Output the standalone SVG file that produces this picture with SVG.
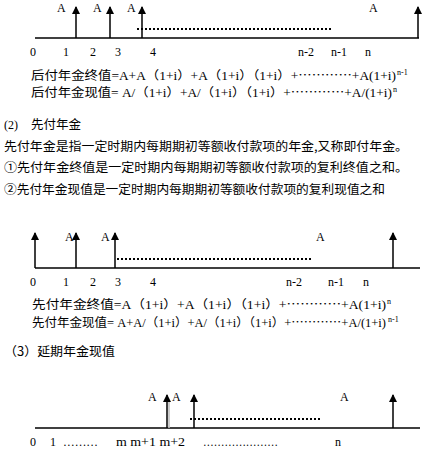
<svg xmlns="http://www.w3.org/2000/svg" width="426" height="452" viewBox="0 0 426 452">
<style>
.ax{stroke:#000;stroke-width:1.5;fill:none}
.dot{stroke:#000;stroke-width:2;stroke-dasharray:2 2;fill:none}
.lat{font-family:"Liberation Serif","Noto Sans CJK SC",serif;font-size:12px;fill:#000}
.cjk{font-family:"Noto Sans CJK SC",sans-serif;font-size:12.5px;fill:#000}
.fm{font-family:"Liberation Serif","Noto Sans CJK SC",serif;font-size:12px;fill:#000}
.el{font-family:"Noto Sans CJK SC",sans-serif}
.sup{font-family:"Liberation Serif",serif;font-size:8px;fill:#000}
</style>
<defs>
<marker id="ah" viewBox="0 0 8 8" refX="7" refY="4" markerWidth="8" markerHeight="8" markerUnits="userSpaceOnUse" orient="auto">
<path d="M0,0 L8,4 L0,8 Z" fill="#000"/>
</marker>
</defs>
<rect width="426" height="452" fill="#fff"/>

<g id="diagram1">
<g id="connectors1">
<line class="ax" x1="35" y1="38" x2="419" y2="38"/>
<line class="ax" x1="76" y1="38" x2="76" y2="7" marker-end="url(#ah)"/>
<line class="ax" x1="110" y1="38" x2="110" y2="7" marker-end="url(#ah)"/>
<line class="ax" x1="142" y1="38" x2="142" y2="7" marker-end="url(#ah)"/>
<line class="ax" x1="418" y1="38" x2="418" y2="7" marker-end="url(#ah)"/>
<line class="dot" x1="137" y1="29" x2="333" y2="29"/>
</g>
<g id="labels1" class="lat">
<text x="57" y="12">A</text><text x="93" y="12">A</text><text x="127" y="12">A</text><text x="369" y="12">A</text>
<text x="30" y="56">0</text><text x="63" y="56">1</text><text x="90" y="56">2</text><text x="115" y="56">3</text><text x="150" y="56">4</text>
<text x="298" y="56">n-2</text><text x="331" y="56">n-1</text><text x="365" y="56">n</text>
</g>
<text class="fm" x="31" y="80" textLength="365" lengthAdjust="spacingAndGlyphs">后付年金终值=A+A（1+i）+A（1+i）（1+i）+<tspan class="el">…………</tspan>+A(1+i)</text>
<text class="sup" x="397" y="75">n-1</text>
<text class="fm" x="31" y="97" textLength="361" lengthAdjust="spacingAndGlyphs">后付年金现值= A/（1+i）+A/（1+i）（1+i）+<tspan class="el">…………</tspan>+A/(1+i)</text>
<text class="sup" x="393" y="92">n</text>
</g>

<g id="text-block">
<text class="lat" x="4" y="129">(2)</text>
<text class="cjk" x="31" y="129">先付年金</text>
<text class="cjk" x="4" y="151" textLength="404" lengthAdjust="spacingAndGlyphs">先付年金是指一定时期内每期期初等额收付款项的年金,又称即付年金。</text>
<text class="cjk" x="4" y="172" textLength="404" lengthAdjust="spacingAndGlyphs">①先付年金终值是一定时期内每期期初等额收付款项的复利终值之和。</text>
<text class="cjk" x="4" y="194" textLength="381" lengthAdjust="spacingAndGlyphs">②先付年金现值是一定时期内每期期初等额收付款项的复利现值之和</text>
</g>

<g id="diagram2">
<g id="connectors2">
<line class="ax" x1="35" y1="268" x2="420" y2="268"/>
<line class="ax" x1="35" y1="268" x2="35" y2="233" marker-end="url(#ah)"/>
<line class="ax" x1="76" y1="268" x2="76" y2="233" marker-end="url(#ah)"/>
<line class="ax" x1="115" y1="268" x2="115" y2="233" marker-end="url(#ah)"/>
<line class="ax" x1="393" y1="268" x2="393" y2="233" marker-end="url(#ah)"/>
<line class="dot" x1="117" y1="259" x2="313" y2="259"/>
</g>
<g id="labels2" class="lat">
<text x="65" y="241">A</text><text x="101" y="241">A</text><text x="316" y="241">A</text>
<text x="30" y="286">0</text><text x="63" y="286">1</text><text x="90" y="286">2</text><text x="115" y="286">3</text><text x="150" y="286">4</text>
<text x="286" y="286">n-2</text><text x="328" y="286">n-1</text><text x="363" y="286">n</text>
</g>
<text class="fm" x="32" y="309" textLength="354" lengthAdjust="spacingAndGlyphs">先付年金终值=A（1+i）+A（1+i）（1+i）+<tspan class="el">…………</tspan>+A(1+i)</text>
<text class="sup" x="387" y="304">n</text>
<text class="fm" x="32" y="327" textLength="354" lengthAdjust="spacingAndGlyphs">先付年金现值= A+A/（1+i）+A/（1+i）（1+i）+<tspan class="el">…………</tspan>+A/(1+i)</text>
<text class="sup" x="388" y="322">n-1</text>
</g>

<text class="cjk" x="4" y="356" textLength="111" lengthAdjust="spacingAndGlyphs">（3）延期年金现值</text>

<g id="diagram3">
<g id="connectors3">
<line class="ax" x1="35" y1="428" x2="420" y2="428"/>
<line x1="169" y1="428" x2="169" y2="402" stroke="#bbb" stroke-width="1.5"/>
<line class="ax" x1="167" y1="428" x2="167" y2="395" marker-end="url(#ah)"/>
<line class="ax" x1="194" y1="428" x2="194" y2="395" marker-end="url(#ah)"/>
<line class="ax" x1="393" y1="428" x2="393" y2="395" marker-end="url(#ah)"/>
<line class="dot" x1="190" y1="419" x2="320" y2="419"/>
</g>
<g id="labels3" class="lat">
<text x="148" y="401">A</text><text x="172" y="401">A</text><text x="340" y="401">A</text>
<text x="30" y="446">0</text><text x="50" y="446">1</text>
<text x="63" y="446" textLength="35" lengthAdjust="spacingAndGlyphs">………</text>
<text x="116" y="446" textLength="69" lengthAdjust="spacingAndGlyphs">m m+1 m+2</text>
<text x="203" y="446" textLength="75" lengthAdjust="spacingAndGlyphs">…………………</text>
<text x="335" y="446">n</text>
</g>
</g>
</svg>
